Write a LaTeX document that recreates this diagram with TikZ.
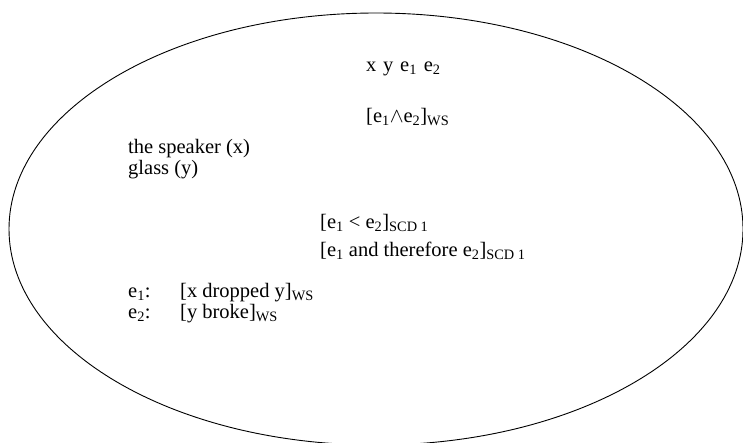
\documentclass[tikz,border=0pt]{standalone}
\usepackage{fontspec}
\setmainfont{Liberation Serif}
\usetikzlibrary{shapes.geometric}
\newcommand{\sbs}[1]{\textsubscript{#1}}
\newcommand{\gp}{\hspace{0.33em}}
\begin{document}
\begin{tikzpicture}[x=1pt,y=-1pt,
  txt/.style={anchor=base west,inner sep=0pt,font=\fontsize{20.5}{24}\selectfont},
  oval/.style={draw=black,line width=0.9pt}]
\useasboundingbox (0,0) rectangle (743,442);
\clip (0,0) rectangle (743,442);
\node[oval,ellipse,minimum width=734pt,minimum height=432pt,inner sep=0pt] (frame) at (376,229) {};
\node[txt] (vars) at (366,71) {x\gp y\gp e\sbs{1}\gp e\sbs{2}};
\node[txt] (conj) at (366,122) {[e\sbs{1}$\wedge$e\sbs{2}]\sbs{WS}};
\node[txt] (spk) at (128,153) {the speaker (x)};
\node[txt] (gls) at (128,174) {glass (y)};
\node[txt] (prec) at (320,228) {[e\sbs{1} < e\sbs{2}]\sbs{SCD 1}};
\node[txt] (ther) at (320,256) {[e\sbs{1} and therefore e\sbs{2}]\sbs{SCD 1}};
\node[txt] (ea) at (128,297) {e\sbs{1}:};
\node[txt] (eb) at (128,318) {e\sbs{2}:};
\node[txt] (da) at (180,297) {[x dropped y]\sbs{WS}};
\node[txt] (db) at (180,318) {[y broke]\sbs{WS}};
\end{tikzpicture}
\end{document}
